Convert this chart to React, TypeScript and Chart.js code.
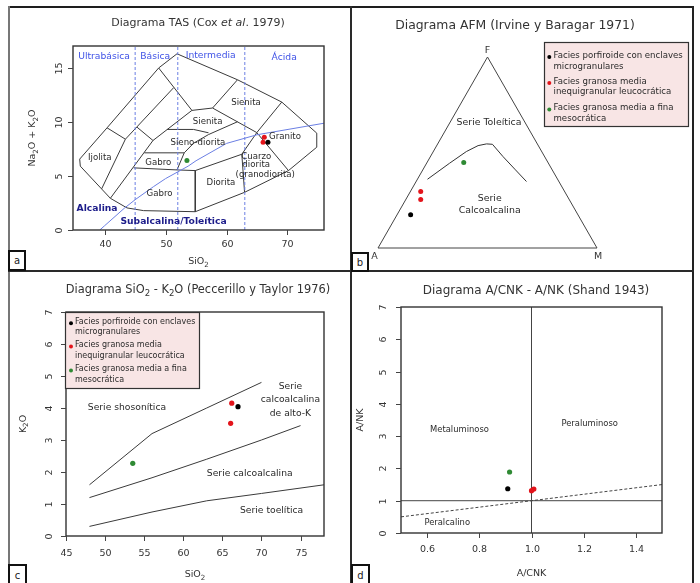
import React, { useEffect, useRef } from "react";
import { Chart, registerables } from "chart.js";
Chart.register(...registerables);

const FONT = "'DejaVu Sans', Verdana, sans-serif";

// ---------- Samples (same 4 analyses in every diagram) ----------
const sampleGroup = [0, 1, 1, 2];
const groupColors = ["#000000", "#e3141b", "#2f8a34"];
const legendLines = [
  ["Facies porfiroide con enclaves", "microgranulares"],
  ["Facies granosa media", "inequigranular leucocrática"],
  ["Facies granosa media a fina", "mesocrática"],
];

// ---------- (a) TAS, Cox et al. 1979 ----------
const tasSiO2 = [66.8, 66.2, 66.0, 53.5];
const tasAlkali = [8.1, 8.57, 8.11, 6.42];
const tasXTicks = [40, 50, 60, 70];
const tasYTicks = [0, 5, 10, 15];
const tasOutline = [
  [35.9, 6.55], [36.0, 5.9], [40.93, 2.93], [43.66, 2.04], [46.39, 1.79], [54.87, 1.69],
  [62.96, 3.48], [70.17, 5.49], [74.81, 7.65], [74.81, 8.95], [69.07, 11.82], [61.8, 13.88],
  [51.87, 16.28], [48.86, 14.97], [40.39, 9.44], [35.9, 6.55],
];
const tasFieldLines = [
  [[40.39, 9.44], [43.4, 8.39]],
  [[43.4, 8.39], [39.5, 3.8]],
  [[43.4, 8.39], [51.32, 13.15]],
  [[48.86, 14.97], [54.32, 11.05]],
  [[45.31, 9.5], [47.93, 8.27]],
  [[47.93, 8.27], [40.93, 2.93]],
  [[47.93, 8.27], [54.32, 11.05]],
  [[54.32, 11.05], [57.71, 11.27]],
  [[57.71, 11.27], [61.8, 13.88]],
  [[57.71, 11.27], [64.97, 9.0]],
  [[64.97, 9.0], [69.07, 11.82]],
  [[64.97, 9.0], [70.17, 5.49]],
  [[64.97, 9.0], [62.51, 7.0], [62.96, 3.48]],
  [[62.51, 7.0], [54.87, 5.49]],
  [[54.87, 5.49], [54.87, 1.69]],
  [[44.76, 5.74], [51.87, 5.55], [54.87, 5.49]],
  [[46.5, 7.13], [53.06, 7.13]],
  [[51.87, 5.55], [53.06, 7.13], [54.6, 8.02], [57.05, 8.82], [61.8, 10.0]],
  [[50.22, 9.29], [54.6, 9.29], [57.05, 8.98]],
];
// Irvine & Baragar (1971) alkaline / subalkaline divide
const ibSiO2 = [39.2, 40, 43.2, 45, 48, 50, 53.7, 55, 60, 65, 77.4];
const ibAlkali = [0, 0.4, 2.0, 2.8, 4.0, 4.75, 5.9, 6.4, 8.0, 8.8, 10.0];
const silicaLimits = [45, 52, 63];
const tasFieldNames = ["Ijolita", "Gabro", "Sieno-diorita", "Sienita", "Sienita", "Granito", "Cuarzo", "diorita", "(granodiorita)", "Diorita", "Gabro"];
const tasFieldX = [39.2, 48.8, 55.3, 56.9, 63.2, 69.6, 64.87, 64.87, 66.35, 59.08, 49.0];
const tasFieldY = [6.66, 6.23, 8.02, 10.0, 11.74, 8.58, 6.79, 6.0, 5.1, 4.38, 3.33];
const tasGroupNames = ["Ultrabásica", "Básica", "Intermedia", "Ácida"];
const tasGroupX = [39.9, 48.3, 57.4, 69.47];
const tasGroupY = [16.05, 16.05, 16.1, 15.92];

// ---------- (b) AFM, Irvine & Baragar 1971 (percent) ----------
const afmF = [17.4, 29.6, 25.4, 44.7];
const afmM = [6.2, 4.7, 6.8, 16.8];
const afmCurveF = [36.0, 44.4, 50.5, 53.6, 54.5, 54.3, 47.9, 41.3, 34.8];
const afmCurveM = [4.6, 10.5, 15.1, 18.9, 22.3, 25.1, 33.1, 41.8, 50.4];

// ---------- (c) SiO2 - K2O, Peccerillo & Taylor 1976 ----------
const pecSiO2 = [67.0, 66.2, 66.06, 53.54];
const pecK2O = [4.04, 4.15, 3.52, 2.27];
const pecXTicks = [45, 50, 55, 60, 65, 70, 75];
const pecYTicks = [0, 1, 2, 3, 4, 5, 6, 7];
const pecShoshoniticSiO2 = [48, 56, 63, 70];
const pecShoshoniticK2O = [1.6, 3.2, 4.0, 4.8];
const pecHighKSiO2 = [48, 56, 63, 70, 75];
const pecHighKK2O = [1.2, 1.82, 2.4, 3.0, 3.45];
const pecTholeiiticSiO2 = [48, 56, 63, 70, 78];
const pecTholeiiticK2O = [0.3, 0.75, 1.1, 1.33, 1.6];
const pecSeriesNames = ["Serie shosonítica", "Serie", "calcoalcalina", "de alto-K", "Serie calcoalcalina", "Serie toelítica"];
const pecSeriesX = [52.8, 73.7, 73.7, 73.7, 68.5, 71.3];
const pecSeriesY = [4.02, 4.67, 4.25, 3.82, 1.96, 0.78];

// ---------- (d) A/CNK - A/NK, Shand 1943 ----------
const shandACNK = [0.909, 1.009, 1.0, 0.916];
const shandANK = [1.37, 1.36, 1.31, 1.89];
const shandXTicks = [0.6, 0.8, 1.0, 1.2, 1.4];
const shandXLabels = ["0.6", "0.8", "1.0", "1.2", "1.4"];
const shandYTicks = [0, 1, 2, 3, 4, 5, 6, 7];
const shandFieldNames = ["Metaluminoso", "Peraluminoso", "Peralcalino"];
const shandFieldX = [0.724, 1.223, 0.677];
const shandFieldY = [3.2, 3.37, 0.31];

// ---------------------------------------------------------------
type Seg = { t: string; it?: boolean; b?: boolean; sub?: boolean };
const T = (t: string): Seg[] => [{ t }];

function drawRich(ctx: CanvasRenderingContext2D, segs: Seg[], x: number, y: number, size: number,
  color: string, align: "center" | "left" | "right" = "center", rot = 0) {
  ctx.save();
  ctx.translate(x, y);
  if (rot) ctx.rotate(rot);
  ctx.fillStyle = color;
  ctx.textBaseline = "middle";
  ctx.textAlign = "left";
  const fontOf = (s: Seg) => `${s.it ? "italic " : ""}${s.b ? "bold " : ""}${s.sub ? size * 0.75 : size}px ${FONT}`;
  const widths = segs.map((s) => { ctx.font = fontOf(s); return ctx.measureText(s.t).width; });
  const total = widths.reduce((a, b) => a + b, 0);
  let cx = align === "center" ? -total / 2 : align === "right" ? -total : 0;
  segs.forEach((s, i) => {
    ctx.font = fontOf(s);
    ctx.fillText(s.t, cx, s.sub ? size * 0.3 : 0);
    cx += widths[i];
  });
  ctx.restore();
}

const lineDs = (pts: number[][], color = "#3a3a3a", width = 1, dash: number[] = []) => ({
  type: "scatter" as const,
  data: pts.map(([x, y]) => ({ x, y })),
  showLine: true,
  borderColor: color,
  backgroundColor: color,
  borderWidth: width,
  borderDash: dash,
  pointRadius: 0,
  pointHoverRadius: 0,
  tension: 0,
  fill: false,
});

const pointDs = (x: number, y: number, color: string, r = 2.6) => ({
  type: "scatter" as const,
  data: [{ x, y }],
  showLine: false,
  pointRadius: r,
  pointBackgroundColor: color,
  pointBorderColor: color,
  pointBorderWidth: 0,
  backgroundColor: color,
  borderColor: color,
});

const zip = (a: number[], b: number[]) => a.map((v, i) => [v, b[i]]);

interface AxesCfg {
  xTicks: number[]; xLabels: string[]; yTicks: number[]; yLabels: string[];
  xTitle: Seg[]; yTitle: Seg[]; title: Seg[]; titleX: number; titleY: number; titleSize: number;
  xLabelY: number; xTitleY: number; yLabelX: number; yTitleX: number;
}

function axesPlugin(cfg: AxesCfg) {
  return {
    id: "rAxes",
    afterDraw(chart: any) {
      const { ctx, chartArea, scales } = chart;
      const { left, right, top, bottom } = chartArea;
      const xs = scales.x, ys = scales.y;
      ctx.save();
      ctx.strokeStyle = "#333";
      ctx.lineWidth = 1.4;
      ctx.strokeRect(left, top, right - left, bottom - top);
      ctx.lineWidth = 1;
      ctx.strokeStyle = "#444";
      cfg.xTicks.forEach((v, i) => {
        const px = Math.round(xs.getPixelForValue(v)) + 0.5;
        ctx.beginPath(); ctx.moveTo(px, bottom); ctx.lineTo(px, bottom + 5); ctx.stroke();
        drawRich(ctx, T(cfg.xLabels[i]), px, cfg.xLabelY, 9.5, "#333");
      });
      cfg.yTicks.forEach((v, i) => {
        const py = Math.round(ys.getPixelForValue(v)) + 0.5;
        ctx.beginPath(); ctx.moveTo(left - 5, py); ctx.lineTo(left, py); ctx.stroke();
        drawRich(ctx, T(cfg.yLabels[i]), cfg.yLabelX, py, 9.5, "#333", "center", -Math.PI / 2);
      });
      const cx = (left + right) / 2, cy = (top + bottom) / 2;
      drawRich(ctx, cfg.xTitle, cx, cfg.xTitleY, 9.5, "#333");
      drawRich(ctx, cfg.yTitle, cfg.yTitleX, cy, 9.5, "#333", "center", -Math.PI / 2);
      drawRich(ctx, cfg.title, cfg.titleX, cfg.titleY, cfg.titleSize, "#333");
      ctx.restore();
    },
  };
}

interface TextItem { segs: Seg[]; x: number; y: number; size: number; color: string }
function textPlugin(items: TextItem[]) {
  return {
    id: "rTexts",
    afterDatasetsDraw(chart: any) {
      const { ctx, scales } = chart;
      items.forEach((it) => drawRich(ctx, it.segs, scales.x.getPixelForValue(it.x), scales.y.getPixelForValue(it.y), it.size, it.color));
    },
  };
}

function legendPlugin(box: number[], dotX: number, textX: number, lineYs: number[], size: number) {
  return {
    id: "rLegend",
    afterDraw(chart: any) {
      const ctx: CanvasRenderingContext2D = chart.ctx;
      ctx.save();
      ctx.fillStyle = "#f8e5e5";
      ctx.fillRect(box[0], box[1], box[2], box[3]);
      ctx.strokeStyle = "#333";
      ctx.lineWidth = 1.2;
      ctx.strokeRect(box[0] + 0.5, box[1] + 0.5, box[2], box[3]);
      legendLines.forEach((lines, g) => {
        ctx.fillStyle = groupColors[g];
        ctx.beginPath();
        ctx.arc(dotX, lineYs[g * 2] + 1.5, 2, 0, Math.PI * 2);
        ctx.fill();
        lines.forEach((ln, k) => drawRich(ctx, T(ln), textX, lineYs[g * 2 + k], size, "#2a2a2a", "left"));
      });
      ctx.restore();
    },
  };
}

function baseOptions(pad: { left: number; right: number; top: number; bottom: number }, x: number[], y: number[]) {
  return {
    responsive: false,
    animation: false as const,
    events: [] as any[],
    layout: { padding: pad },
    plugins: { legend: { display: false }, tooltip: { enabled: false }, title: { display: false } },
    scales: {
      x: { type: "linear" as const, min: x[0], max: x[1], display: false },
      y: { type: "linear" as const, min: y[0], max: y[1], display: false },
    },
  };
}

function samplePoints(xs: number[], ys: number[], r = 2.6) {
  return xs.map((x, i) => pointDs(x, ys[i], groupColors[sampleGroup[i]], r));
}

// ---------- chart builders ----------
function buildTAS(canvas: HTMLCanvasElement) {
  const datasets: any[] = [
    ...samplePoints(tasSiO2, tasAlkali, 2.5),
    lineDs(zip(ibSiO2, ibAlkali), "#6b7fe3", 1),
    ...silicaLimits.map((s) => lineDs([[s, 0], [s, 17]], "#6b7fe3", 1, [3, 2])),
    lineDs(tasOutline, "#3a3a3a", 1),
    ...tasFieldLines.map((l) => lineDs(l, "#3a3a3a", 1)),
  ];
  const texts: TextItem[] = [
    ...tasFieldNames.map((n, i) => ({ segs: T(n), x: tasFieldX[i], y: tasFieldY[i], size: 8.6, color: "#2a2a2a" })),
    ...tasGroupNames.map((n, i) => ({ segs: T(n), x: tasGroupX[i], y: tasGroupY[i], size: 9.2, color: "#3f52e6" })),
    { segs: [{ t: "Alcalina", b: true }], x: 38.75, y: 2.0, size: 9.2, color: "#1c1c8a" },
    { segs: [{ t: "Subalcalina/Toleítica", b: true }], x: 51.3, y: 0.8, size: 9.2, color: "#1c1c8a" },
  ];
  return new Chart(canvas, {
    type: "scatter",
    data: { datasets },
    options: baseOptions({ left: 73, right: 27, top: 46, bottom: 41 }, [34.8, 76], [0, 17]) as any,
    plugins: [
      textPlugin(texts),
      axesPlugin({
        xTicks: tasXTicks, xLabels: tasXTicks.map(String), yTicks: tasYTicks, yLabels: tasYTicks.map(String),
        xTitle: [{ t: "SiO" }, { t: "2", sub: true }],
        yTitle: [{ t: "Na" }, { t: "2", sub: true }, { t: "O + K" }, { t: "2", sub: true }, { t: "O" }],
        title: [{ t: "Diagrama TAS (Cox " }, { t: "et al", it: true }, { t: ". 1979)" }],
        titleX: 198, titleY: 23, titleSize: 11,
        xLabelY: 245, xTitleY: 262, yLabelX: 60, yTitleX: 33,
      }),
    ] as any,
  });
}

const SQ3 = 0.866;
const ternXY = (f: number, m: number) => [m / 100 + f / 200, (f / 100) * SQ3];

function buildAFM(canvas: HTMLCanvasElement) {
  const pts = afmF.map((f, i) => ternXY(f, afmM[i]));
  const curve = afmCurveF.map((f, i) => ternXY(f, afmCurveM[i]));
  const datasets: any[] = [
    ...pts.map((p, i) => pointDs(p[0], p[1], groupColors[sampleGroup[i]], 2.5)),
    lineDs(curve, "#333", 1),
    { ...lineDs([[0, 0], [0.5, SQ3], [1, 0], [0, 0]], "#444", 1), clip: false },
  ];
  const texts: TextItem[] = [
    { segs: T("Serie Toleítica"), x: 0.507, y: 0.568, size: 9.4, color: "#2a2a2a" },
    { segs: T("Serie"), x: 0.51, y: 0.226, size: 9.4, color: "#2a2a2a" },
    { segs: T("Calcoalcalina"), x: 0.51, y: 0.17, size: 9.4, color: "#2a2a2a" },
  ];
  const vertexLabels = {
    id: "vtx",
    afterDraw(chart: any) {
      const { ctx, scales } = chart;
      const X = (v: number) => scales.x.getPixelForValue(v), Y = (v: number) => scales.y.getPixelForValue(v);
      drawRich(ctx, T("F"), X(0.5), Y(SQ3) - 6, 9.5, "#333");
      drawRich(ctx, T("A"), X(0) - 3.5, Y(0) + 8.5, 9.5, "#333");
      drawRich(ctx, T("M"), X(1) + 1, Y(0) + 8.5, 9.5, "#333");
      drawRich(ctx, T("Diagrama AFM (Irvine y Baragar 1971)"), 164, 26, 12.4, "#333");
    },
  };
  return new Chart(canvas, {
    type: "scatter",
    data: { datasets },
    options: baseOptions({ left: 27, right: 103, top: 57, bottom: 23 }, [0, 1], [0, SQ3]) as any,
    plugins: [textPlugin(texts), vertexLabels, legendPlugin([193, 42, 144, 84], 198.3, 202.5, [55.5, 66.5, 81.5, 92.2, 108, 118.5], 8.6)] as any,
  });
}

function buildPec(canvas: HTMLCanvasElement) {
  const datasets: any[] = [
    ...samplePoints(pecSiO2, pecK2O, 2.6),
    lineDs(zip(pecShoshoniticSiO2, pecShoshoniticK2O), "#3a3a3a", 1),
    lineDs(zip(pecHighKSiO2, pecHighKK2O), "#3a3a3a", 1),
    lineDs(zip(pecTholeiiticSiO2, pecTholeiiticK2O), "#3a3a3a", 1),
  ];
  const texts: TextItem[] = pecSeriesNames.map((n, i) => ({ segs: T(n), x: pecSeriesX[i], y: pecSeriesY[i], size: 9.2, color: "#2a2a2a" }));
  return new Chart(canvas, {
    type: "scatter",
    data: { datasets },
    options: baseOptions({ left: 66, right: 27, top: 41, bottom: 47 }, [45, 78], [0, 7]) as any,
    plugins: [
      textPlugin(texts),
      axesPlugin({
        xTicks: pecXTicks, xLabels: pecXTicks.map(String), yTicks: pecYTicks, yLabels: pecYTicks.map(String),
        xTitle: [{ t: "SiO" }, { t: "2", sub: true }],
        yTitle: [{ t: "K" }, { t: "2", sub: true }, { t: "O" }],
        title: [{ t: "Diagrama SiO" }, { t: "2", sub: true }, { t: " - K" }, { t: "2", sub: true }, { t: "O (Peccerillo y Taylor 1976)" }],
        titleX: 198, titleY: 19, titleSize: 11.4,
        xLabelY: 282.5, xTitleY: 304, yLabelX: 50, yTitleX: 23.5,
      }),
      legendPlugin([65, 41, 134, 76], 71, 75, [50.7, 61, 74, 85, 98, 109], 8),
    ] as any,
  });
}

function buildShand(canvas: HTMLCanvasElement) {
  const datasets: any[] = [
    ...samplePoints(shandACNK, shandANK, 2.6),
    lineDs([[1, 0], [1, 7]], "#444", 1),
    lineDs([[0.5, 1], [1.5, 1]], "#444", 1),
    lineDs([[0.5, 0.5], [1.5, 1.5]], "#444", 1, [3, 2]),
  ];
  const texts: TextItem[] = shandFieldNames.map((n, i) => ({ segs: T(n), x: shandFieldX[i], y: shandFieldY[i], size: 8.4, color: "#2a2a2a" }));
  return new Chart(canvas, {
    type: "scatter",
    data: { datasets },
    options: baseOptions({ left: 50, right: 38, top: 36, bottom: 50 }, [0.5, 1.5], [0, 7]) as any,
    plugins: [
      textPlugin(texts),
      axesPlugin({
        xTicks: shandXTicks, xLabels: shandXLabels, yTicks: shandYTicks, yLabels: shandYTicks.map(String),
        xTitle: T("A/CNK"), yTitle: T("A/NK"),
        title: T("Diagrama A/CNK - A/NK (Shand 1943)"),
        titleX: 185, titleY: 20, titleSize: 12,
        xLabelY: 279, xTitleY: 303, yLabelX: 32.5, yTitleX: 10,
      }),
    ] as any,
  });
}

function Panel({ left, top, w, h, build }: { left: number; top: number; w: number; h: number; build: (c: HTMLCanvasElement) => Chart }) {
  const ref = useRef<HTMLCanvasElement | null>(null);
  useEffect(() => {
    if (!ref.current) return;
    const chart = build(ref.current);
    return () => chart.destroy();
  }, [build]);
  return <canvas ref={ref} width={w} height={h} style={{ position: "absolute", left, top, width: w, height: h }} />;
}

const lineStyle = (l: number, t: number, w: number, h: number, c: string): React.CSSProperties => ({
  position: "absolute", left: l, top: t, width: w, height: h, background: c,
});

function Tag({ l, t, w, h, label }: { l: number; t: number; w: number; h: number; label: string }) {
  return (
    <div style={{
      position: "absolute", left: l, top: t, width: w, height: h, boxSizing: "border-box",
      border: "2.5px solid #111", background: "#fff", font: `10px ${FONT}`, color: "#222",
      display: "flex", alignItems: "center", justifyContent: "center",
    }}>{label}</div>
  );
}

export default function App() {
  return (
    <div style={{ position: "fixed", left: 0, top: 0, width: 700, height: 583, background: "#fff", overflow: "hidden" }}>
      <Panel left={0} top={0} w={351} h={271} build={buildTAS} />
      <Panel left={351} top={0} w={349} h={271} build={buildAFM} />
      <Panel left={0} top={271} w={351} h={312} build={buildPec} />
      <Panel left={351} top={271} w={349} h={312} build={buildShand} />
      <div style={lineStyle(8, 6, 686, 2, "#1e1e1e")} />
      <div style={lineStyle(8, 6, 2, 580, "#777")} />
      <div style={lineStyle(692, 6, 2, 580, "#222")} />
      <div style={lineStyle(350, 6, 2, 580, "#2a2a2a")} />
      <div style={lineStyle(8, 270, 686, 2, "#2a2a2a")} />
      <Tag l={8} t={250} w={18} h={21} label="a" />
      <Tag l={351} t={252} w={18} h={20} label="b" />
      <Tag l={8} t={564} w={19} h={22} label="c" />
      <Tag l={351} t={564} w={19} h={22} label="d" />
    </div>
  );
}
